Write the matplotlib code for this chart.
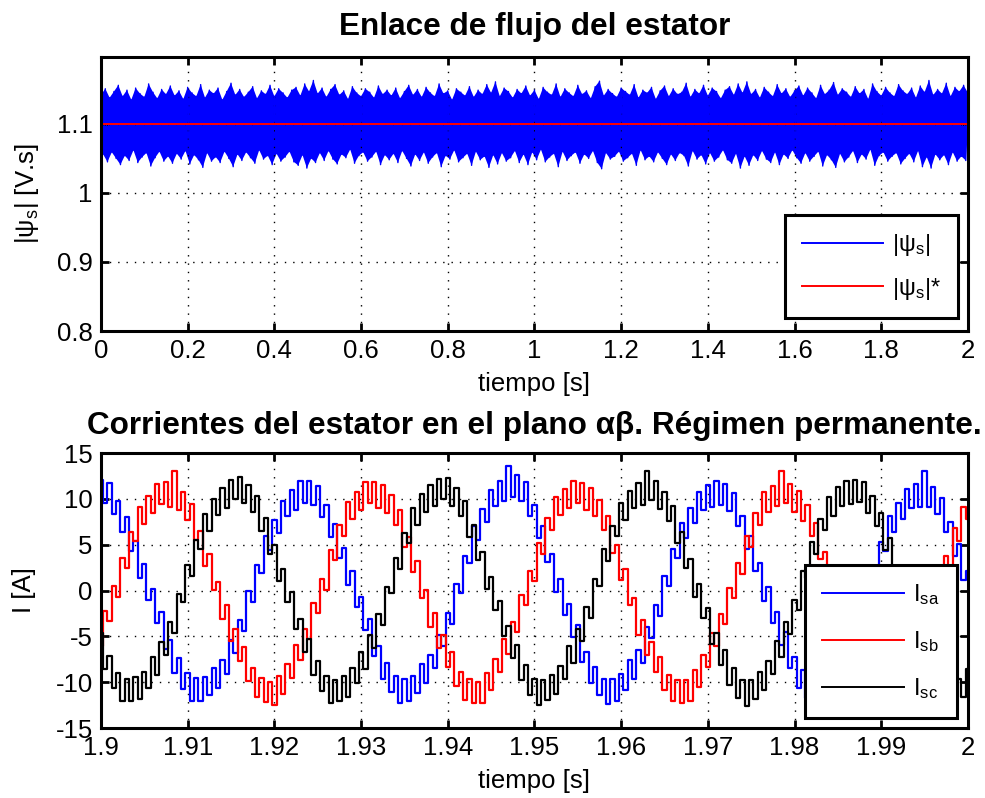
import numpy as np
import matplotlib
matplotlib.use('Agg')
import matplotlib.pyplot as plt
from matplotlib.lines import Line2D

plt.rcParams['font.family'] = ['Liberation Sans', 'DejaVu Sans']
plt.rcParams['axes.unicode_minus'] = False
plt.rcParams['mathtext.fontset'] = 'custom'
plt.rcParams['mathtext.rm'] = 'Liberation Sans'
plt.rcParams['mathtext.it'] = 'Liberation Sans'

# |psi_s| envelope: upper edge every 10 ms, lower edge offset by 5 ms
flux_t0, flux_dt = 0.0, 0.01
flux_upper = [
    1.142, 1.151, 1.138, 1.147, 1.156, 1.140, 1.149, 1.135, 1.152, 1.144,
    1.139, 1.158, 1.146, 1.137, 1.150, 1.143, 1.155, 1.141, 1.148, 1.136,
    1.153, 1.145, 1.140, 1.157, 1.138, 1.149, 1.144, 1.152, 1.135, 1.147,
    1.159, 1.142, 1.150, 1.139, 1.146, 1.154, 1.137, 1.148, 1.143, 1.156,
    1.140, 1.151, 1.145, 1.138, 1.149, 1.153, 1.141, 1.158, 1.147, 1.163,
    1.144, 1.152, 1.139, 1.150, 1.157, 1.142, 1.148, 1.136, 1.154, 1.145,
    1.140, 1.151, 1.146, 1.138, 1.155, 1.143, 1.149, 1.141, 1.152, 1.137,
    1.147, 1.156, 1.142, 1.150, 1.139, 1.153, 1.145, 1.140, 1.158, 1.144,
    1.148, 1.135, 1.151, 1.146, 1.141, 1.154, 1.139, 1.149, 1.143, 1.157,
    1.145, 1.161, 1.140, 1.152, 1.147, 1.138, 1.150, 1.144, 1.155, 1.141,
    1.149, 1.136, 1.153, 1.146, 1.142, 1.158, 1.139, 1.151, 1.145, 1.140,
    1.156, 1.143, 1.148, 1.137, 1.154, 1.162, 1.141, 1.150, 1.144, 1.139,
    1.152, 1.147, 1.142, 1.157, 1.138, 1.149, 1.145, 1.153, 1.136, 1.148,
    1.155, 1.140, 1.151, 1.143, 1.146, 1.159, 1.139, 1.150, 1.144, 1.156,
    1.141, 1.152, 1.147, 1.137, 1.149, 1.154, 1.142, 1.158, 1.145, 1.161,
    1.143, 1.150, 1.138, 1.153, 1.146, 1.140, 1.157, 1.144, 1.151, 1.139,
    1.148, 1.155, 1.141, 1.152, 1.145, 1.137, 1.156, 1.143, 1.149, 1.160,
    1.142, 1.151, 1.146, 1.139, 1.154, 1.144, 1.150, 1.136, 1.158, 1.147,
    1.141, 1.153, 1.145, 1.140, 1.157, 1.148, 1.143, 1.152, 1.138, 1.155,
    1.146, 1.163, 1.142, 1.150, 1.144, 1.159, 1.140, 1.153, 1.147, 1.156,
    1.145,
]
flux_lower = [
    1.056, 1.045, 1.059, 1.050, 1.041, 1.054, 1.047, 1.062, 1.044, 1.052,
    1.058, 1.039, 1.051, 1.060, 1.046, 1.053, 1.043, 1.057, 1.049, 1.061,
    1.042, 1.055, 1.048, 1.037, 1.058, 1.046, 1.052, 1.044, 1.060, 1.050,
    1.038, 1.056, 1.047, 1.059, 1.051, 1.043, 1.062, 1.049, 1.054, 1.041,
    1.057, 1.046, 1.052, 1.060, 1.045, 1.040, 1.055, 1.036, 1.050, 1.044,
    1.058, 1.047, 1.061, 1.049, 1.042, 1.056, 1.051, 1.063, 1.043, 1.054,
    1.059, 1.046, 1.052, 1.060, 1.041, 1.055, 1.048, 1.057, 1.044, 1.061,
    1.050, 1.039, 1.056, 1.047, 1.059, 1.043, 1.052, 1.058, 1.038, 1.054,
    1.049, 1.062, 1.045, 1.051, 1.057, 1.040, 1.060, 1.048, 1.053, 1.037,
    1.055, 1.042, 1.058, 1.046, 1.051, 1.061, 1.044, 1.056, 1.041, 1.059,
    1.048, 1.063, 1.045, 1.052, 1.057, 1.038, 1.060, 1.047, 1.054, 1.059,
    1.043, 1.056, 1.050, 1.061, 1.044, 1.035, 1.058, 1.049, 1.053, 1.060,
    1.046, 1.051, 1.057, 1.040, 1.062, 1.048, 1.053, 1.045, 1.059, 1.050,
    1.041, 1.056, 1.047, 1.058, 1.054, 1.039, 1.061, 1.049, 1.055, 1.042,
    1.058, 1.046, 1.052, 1.062, 1.048, 1.043, 1.057, 1.036, 1.053, 1.040,
    1.055, 1.047, 1.061, 1.049, 1.044, 1.059, 1.041, 1.056, 1.050, 1.062,
    1.051, 1.043, 1.058, 1.046, 1.053, 1.060, 1.039, 1.055, 1.048, 1.037,
    1.057, 1.045, 1.052, 1.061, 1.044, 1.056, 1.049, 1.063, 1.040, 1.054,
    1.059, 1.046, 1.053, 1.058, 1.042, 1.050, 1.057, 1.045, 1.061, 1.038,
    1.052, 1.036, 1.056, 1.048, 1.055, 1.041, 1.059, 1.046, 1.053, 1.047,
]
flux_ref = 1.1

# stator currents, 1.9 s .. 2.0 s, one sample every 0.5 ms
cur_t0, cur_dt = 1.9, 0.0005
i_sa = [
    12.1, 9.5, 11.7, 8.4, 9.8, 6.4, 8.0, 4.3, 5.4, 1.4,
    2.9, -1.0, 0.2, -3.5, -2.3, -6.4, -5.4, -9.0, -7.4, -10.7,
    -9.0, -12.1, -9.5, -12.1, -9.4, -11.4, -8.4, -10.6, -7.6, -9.1,
    -5.4, -6.8, -3.2, -4.4, -0.1, -1.2, 2.8, 1.9, 5.9, 4.4,
    7.7, 6.3, 9.8, 8.1, 11.0, 8.8, 11.9, 9.5, 12.0, 9.3,
    11.4, 8.0, 9.3, 5.8, 7.3, 3.6, 4.6, 0.6, 2.1, -1.8,
    -0.7, -4.3, -3.1, -7.1, -6.1, -9.6, -7.9, -11.1, -9.3, -12.3,
    -9.6, -12.1, -9.3, -11.2, -8.0, -10.1, -7.0, -8.5, -4.8, -6.0,
    -2.4, -3.6, 0.7, -0.3, 3.8, 3.0, 7.0, 5.5, 8.9, 7.5,
    11.0, 9.2, 12.0, 9.8, 13.6, 10.2, 12.6, 9.8, 11.8, 8.1,
    9.3, 5.7, 7.0, 3.1, 4.0, -0.2, 1.3, -2.7, -1.5, -5.1,
    -3.8, -7.8, -6.7, -10.1, -8.3, -11.4, -9.6, -12.4, -9.6, -12.0,
    -9.1, -10.9, -7.6, -9.6, -6.5, -7.9, -4.0, -5.2, -1.6, -2.8,
    1.6, 0.5, 4.5, 3.5, 7.4, 5.7, 9.0, 7.4, 10.7, 8.8,
    11.5, 9.1, 12.0, 9.3, 11.6, 8.7, 10.6, 7.0, 8.1, 4.5,
    5.9, 2.1, 3.0, -1.1, 0.4, -3.5, -2.3, -5.9, -4.5, -8.4,
    -7.2, -10.6, -8.7, -11.7, -9.7, -12.5, -9.6, -11.8, -8.8, -10.5,
    -7.2, -9.1, -5.8, -7.2, -3.3, -4.5, -0.8, -1.9, 2.4, 1.3,
    5.3, 4.3, 8.1, 6.4, 9.5, 7.8, 11.1, 9.0, 11.6, 9.1,
    13.0, 9.1, 11.3, 8.3, 10.1, 6.4, 7.5, 3.8, 5.1, 1.2,
    2.1,
]
i_sb = [
    -6.1, -2.2, -3.3, 0.5, -0.7, 3.6, 2.5, 6.4, 5.4, 9.1,
    7.3, 10.3, 8.5, 11.6, 9.4, 11.8, 9.1, 13.0, 8.8, 10.8,
    7.7, 9.4, 5.5, 6.5, 2.7, 4.0, 0.1, 0.9, -3.1, -1.6,
    -5.5, -4.2, -7.7, -6.2, -9.9, -8.5, -11.6, -9.5, -12.2, -10.0,
    -12.5, -9.3, -11.3, -8.0, -9.5, -5.9, -7.6, -4.2, -5.3, -1.4,
    -2.4, 1.3, 0.1, 4.4, 3.3, 7.2, 6.0, 9.7, 7.8, 10.7,
    8.8, 11.8, 9.5, 11.8, 9.0, 11.5, 8.5, 10.4, 7.2, 8.8,
    4.8, 5.8, 2.0, 3.2, -0.8, 0.1, -4.0, -2.4, -6.3, -4.9,
    -8.3, -6.7, -10.4, -8.9, -11.9, -9.6, -12.3, -10.0, -12.3, -9.0,
    -10.9, -7.5, -8.9, -5.3, -6.9, -3.4, -4.5, -0.5, -1.6, 2.1,
    1.0, 5.2, 4.0, 7.9, 6.6, 10.2, 8.2, 11.1, 9.0, 11.9,
    9.5, 11.7, 8.8, 11.2, 8.1, 9.9, 6.6, 8.1, 4.1, 5.0,
    1.1, 2.3, -1.6, -0.8, -4.8, -3.2, -7.0, -5.6, -8.9, -7.3,
    -10.8, -9.2, -12.1, -9.8, -12.3, -9.8, -12.1, -8.7, -10.5, -7.0,
    -8.3, -4.6, -6.1, -2.6, -3.7, 0.3, -0.8, 3.0, 1.8, 6.0,
    4.8, 8.5, 7.2, 10.7, 8.6, 11.4, 9.2, 13.0, 9.5, 11.6,
    8.6, 10.9, 7.6, 9.3, 6.0, 7.4, 3.4, 4.2, 0.3, 1.5,
    -2.5, -1.6, -5.6, -4.0, -7.7, -6.2, -9.5, -7.7, -11.2, -9.5,
    -12.3, -9.8, -12.2, -9.7, -11.8, -8.3, -10.0, -6.4, -7.7, -3.9,
    -5.4, -1.8, -2.9, 1.2, 0.1, 3.8, 2.6, 6.8, 5.4, 9.1,
    7.8,
]
i_sc = [
    -4.6, -8.6, -7.1, -10.6, -9.0, -12.1, -9.6, -12.0, -9.4, -11.8,
    -8.9, -10.6, -7.2, -9.2, -5.6, -7.0, -3.4, -4.6, -0.4, -1.2,
    2.8, 1.6, 5.5, 4.5, 8.3, 6.5, 10.0, 8.2, 11.2, 9.0,
    12.1, 10.0, 12.4, 9.5, 11.5, 8.6, 10.3, 6.5, 7.9, 4.0,
    5.0, 1.0, 2.4, -1.3, -0.2, -4.2, -3.1, -6.7, -5.3, -9.2,
    -7.7, -11.0, -9.3, -12.3, -9.8, -12.0, -9.3, -11.6, -8.5, -10.1,
    -6.7, -8.6, -4.9, -6.3, -2.6, -3.8, 0.4, -0.3, 3.6, 2.4,
    6.3, 5.2, 9.0, 7.1, 10.5, 8.6, 11.5, 9.2, 12.2, 10.0,
    12.3, 9.2, 11.2, 8.1, 9.8, 5.8, 7.2, 3.3, 4.2, 0.2,
    1.5, -2.1, -1.1, -5.0, -3.9, -7.4, -5.9, -9.8, -8.1, -11.4,
    -9.6, -12.5, -9.8, -11.9, -9.2, -11.3, -8.2, -9.7, -6.1, -7.9,
    -4.2, -5.5, -1.8, -3.0, 1.3, 0.5, 4.5, 3.2, 7.0, 5.9,
    9.6, 7.7, 10.9, 9.0, 11.7, 9.3, 13.0, 9.9, 12.0, 8.9,
    10.7, 7.6, 9.2, 5.2, 6.4, 2.5, 3.4, -0.7, 0.7, -3.0,
    -1.9, -5.8, -4.6, -8.1, -6.5, -10.3, -8.5, -11.7, -9.8, -12.6,
    -9.8, -11.8, -8.9, -10.9, -7.7, -9.1, -5.5, -7.2, -3.4, -4.7,
    -1.0, -2.1, 2.1, 1.4, 5.3, 4.0, 7.8, 6.6, 10.2, 8.1,
    11.3, 9.2, 11.9, 9.4, 12.1, 9.7, 11.8, 8.5, 10.3, 7.0,
    8.5, 4.4, 5.7, 1.7, 2.5, -1.5, -0.2, -3.8, -2.7, -6.6,
    -5.3, -8.7, -7.0, -10.8, -8.9, -11.9, -9.9, -12.6, -9.7, -11.6,
    -8.6,
]

FS = 18.5


def matlab_axes(ax):
    for sp in ax.spines.values():
        sp.set_linewidth(2.2)
    ax.tick_params(direction='in', length=6, width=2, top=True, right=True,
                   labelsize=FS, pad=6)
    ax.grid(True, color='k', linestyle=(0, (1, 5)), linewidth=1.0)


def matlab_legend(ax, handles, labels, anchor, spacing, pad):
    leg = ax.legend(handles, labels, loc='lower right', bbox_to_anchor=anchor,
                    borderaxespad=0, fontsize=17, handlelength=3.45,
                    labelspacing=spacing, borderpad=pad, handletextpad=0.4,
                    fancybox=False, framealpha=1.0, edgecolor='k')
    leg.get_frame().set_linewidth(2.2)
    return leg


fig = plt.figure(figsize=(9.85, 7.98), dpi=100)

# ---- stator flux linkage ----
ax1 = fig.add_axes([0.1025, 0.5852, 0.8802, 0.3434])
n_up = len(flux_upper)
t_up = flux_t0 + flux_dt * np.arange(n_up)
t_lo = t_up[:len(flux_lower)] + flux_dt / 2
# solid band between the two edges, then the ripple trace on its border
ax1.fill(np.r_[t_up, t_lo[::-1]], np.r_[flux_upper, flux_lower[::-1]],
         color=(0, 0, 1), lw=0)
tf = np.empty(n_up + len(flux_lower))
yf = np.empty_like(tf)
tf[0::2], yf[0::2] = t_up, flux_upper
tf[1::2], yf[1::2] = t_lo, flux_lower
ax1.plot(tf, yf, color=(0, 0, 1), lw=1.0)
ax1.plot([t_up[0], t_up[-1]], [flux_ref, flux_ref], color=(1, 0, 0), lw=1.4)
ax1.set_xlim(0, 2)
ax1.set_ylim(0.8, 1.197)
ax1.set_xticks(np.arange(0, 2.01, 0.2))
ax1.set_xticklabels(['0', '0.2', '0.4', '0.6', '0.8', '1', '1.2', '1.4',
                     '1.6', '1.8', '2'])
ax1.set_yticks([0.8, 0.9, 1.0, 1.1])
ax1.set_yticklabels(['0.8', '0.9', '1', '1.1'])
matlab_axes(ax1)
ax1.set_title('Enlace de flujo del estator', fontsize=22.7, fontweight='bold',
              pad=16)
ax1.set_xlabel('tiempo [s]', fontsize=FS, labelpad=6)
ax1.set_ylabel(r'$\mathregular{|ψ_s|}$ [V.s]', fontsize=FS, labelpad=11)
matlab_legend(ax1,
              [Line2D([], [], color=(0, 0, 1), lw=1.4),
               Line2D([], [], color=(1, 0, 0), lw=1.4)],
              [r'$\mathregular{|ψ_s|}$', r'$\mathregular{|ψ_s|}$*'],
              (0.9885, 0.047), 0.75, 0.7)

# ---- stator currents ----
ax2 = fig.add_axes([0.1025, 0.0877, 0.8802, 0.3446])
tc = cur_t0 + cur_dt * np.arange(len(i_sa))
for vals, col in [(i_sa, (0, 0, 1)), (i_sb, (1, 0, 0)), (i_sc, (0, 0, 0))]:
    ax2.plot(tc, vals, color=col, lw=1.6, drawstyle='steps-mid')
ax2.set_xlim(1.9, 2.0)
ax2.set_ylim(-15, 15)
ax2.set_xticks(np.linspace(1.9, 2.0, 11))
ax2.set_xticklabels(['1.9', '1.91', '1.92', '1.93', '1.94', '1.95', '1.96',
                     '1.97', '1.98', '1.99', '2'])
ax2.set_yticks(np.arange(-15, 16, 5))
matlab_axes(ax2)
ax2.set_title('Corrientes del estator en el plano αβ. Régimen permanente.',
              fontsize=22.7, fontweight='bold', pad=14)
ax2.set_xlabel('tiempo [s]', fontsize=FS, labelpad=6)
ax2.set_ylabel('I [A]', fontsize=FS, labelpad=14)
matlab_legend(ax2,
              [Line2D([], [], color=c, lw=1.4) for c in [(0, 0, 1), (1, 0, 0), (0, 0, 0)]],
              [r'$\mathregular{I_{sa}}$', r'$\mathregular{I_{sb}}$',
               r'$\mathregular{I_{sc}}$'],
              (0.987, 0.036), 0.93, 0.72)

fig.savefig('out.png', dpi=100)
